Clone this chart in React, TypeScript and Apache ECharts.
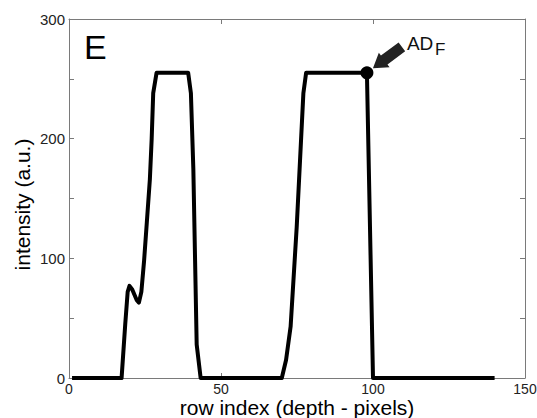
import React, { useEffect, useRef } from "react";
import * as echarts from "echarts";

const rowIndex = [1, 17.3, 18.5, 19.3, 19.9, 20.8, 22.3, 23, 23.8, 24.7, 25.6, 26.6, 27.2, 27.7, 28.8, 39.2, 40.1, 40.9, 42, 43.3, 70, 71.4, 72.9, 74.9, 77.1, 78, 98, 100, 140];
const intensity = [0, 0, 45, 72, 77, 74, 65, 63, 72, 98, 130, 166, 200, 238, 255, 255, 238, 175, 28, 0, 0, 15, 43, 126, 238, 255, 255, 0, 0];
const markerPoint = [98, 255];
const xTicks = { min: 0, max: 150, interval: 50 };
const yTicks = { min: 0, max: 300, interval: 50, labelEvery: 100 };
const panelLabel = "E";
const markerLabel = "AD";
const markerSub = "F";
const xName = "row index (depth - pixels)";
const yName = "intensity (a.u.)";

const FONT = "Liberation Sans, Arial, Helvetica, sans-serif";
const AXIS_COLOR = "#7a7a7a";
const TEXT_COLOR = "#222";

export default function App() {
  const ref = useRef<HTMLDivElement>(null);
  useEffect(() => {
    document.body.style.margin = "0";
    if (!ref.current) return;
    const chart = echarts.init(ref.current, null, { renderer: "svg" });
    const data = rowIndex.map((x, i) => [x, intensity[i]]);
    const axisCommon = {
      axisLine: { show: true, onZero: false, lineStyle: { color: AXIS_COLOR, width: 1 } },
      axisTick: { show: true, inside: true, length: 5, lineStyle: { color: AXIS_COLOR } },
      splitLine: { show: false },
    };
    chart.setOption({
      animation: false,
      grid: { left: 69, top: 19, right: 12, bottom: 40, outerBoundsMode: "none", containLabel: false },
      xAxis: [
        {
          type: "value",
          ...xTicks,
          ...axisCommon,
          position: "bottom",
          axisLabel: { color: TEXT_COLOR, fontSize: 14, lineHeight: 14, fontFamily: FONT, margin: 4 },
          name: xName,
          nameLocation: "middle",
          nameGap: 19,
          nameMoveOverlap: false,
          nameTextStyle: { color: "#000", fontSize: 21, lineHeight: 21, fontFamily: FONT, verticalAlign: "top" },
        },
        {
          type: "value",
          ...xTicks,
          ...axisCommon,
          position: "top",
          axisLabel: { show: false },
        },
      ],
      yAxis: [
        {
          type: "value",
          min: yTicks.min,
          max: yTicks.max,
          interval: yTicks.interval,
          ...axisCommon,
          position: "left",
          axisLabel: {
            color: TEXT_COLOR,
            fontSize: 15,
            fontFamily: FONT,
            margin: 4,
            formatter: (v: number) => (v % yTicks.labelEvery === 0 ? String(v) : ""),
          },
          name: yName,
          nameLocation: "middle",
          nameGap: 36,
          nameMoveOverlap: false,
          nameTextStyle: { color: "#000", fontSize: 21, fontFamily: FONT, padding: [0, 12, 0, 0] },
        },
        {
          type: "value",
          min: yTicks.min,
          max: yTicks.max,
          interval: yTicks.interval,
          ...axisCommon,
          position: "right",
          axisLabel: { show: false },
        },
      ],
      series: [
        {
          type: "line",
          data,
          showSymbol: false,
          symbol: "none",
          clip: false,
          lineStyle: { color: "#000", width: 4, join: "round" },
          z: 3,
        },
        {
          type: "scatter",
          data: [markerPoint],
          symbol: "circle",
          symbolSize: 13,
          clip: false,
          itemStyle: { color: "#000", opacity: 1 },
          z: 4,
        },
      ],
    });
    const c = chart.convertToPixel({ gridIndex: 0 }, markerPoint) as number[];
    const d = [0.804, -0.597];
    const n = [0.597, 0.804];
    const pt = (along: number, side: number) => [
      c[0] + d[0] * along + n[0] * side,
      c[1] + d[1] * along + n[1] * side,
    ];
    const tipA = 7.5, headA = 21.5, tailA = 43.5, headW = 9, shaftW = 5.5;
    const arrowPts = [
      pt(tipA, 0),
      pt(headA, headW),
      pt(headA, shaftW),
      pt(tailA, shaftW),
      pt(tailA, -shaftW),
      pt(headA, -shaftW),
      pt(headA, -headW),
    ];
    const origin = chart.convertToPixel({ gridIndex: 0 }, [0, 300]) as number[];
    chart.setOption({
      graphic: [
        {
          type: "polygon",
          shape: { points: arrowPts },
          style: { fill: "#222" },
          z: 10,
        },
        {
          type: "text",
          x: c[0] + 40,
          y: c[1] - 39,
          style: { text: markerLabel, font: `19px ${FONT}`, fill: "#111" },
          z: 10,
        },
        {
          type: "text",
          x: c[0] + 68,
          y: c[1] - 32,
          style: { text: markerSub, font: `17px ${FONT}`, fill: "#111" },
          z: 10,
        },
        {
          type: "text",
          x: origin[0] + 15,
          y: origin[1] + 11,
          style: { text: panelLabel, font: `34px ${FONT}`, fill: "#000" },
          z: 10,
        },
      ],
    });
    return () => chart.dispose();
  }, []);
  return <div ref={ref} style={{ width: 537, height: 418 }} />;
}
